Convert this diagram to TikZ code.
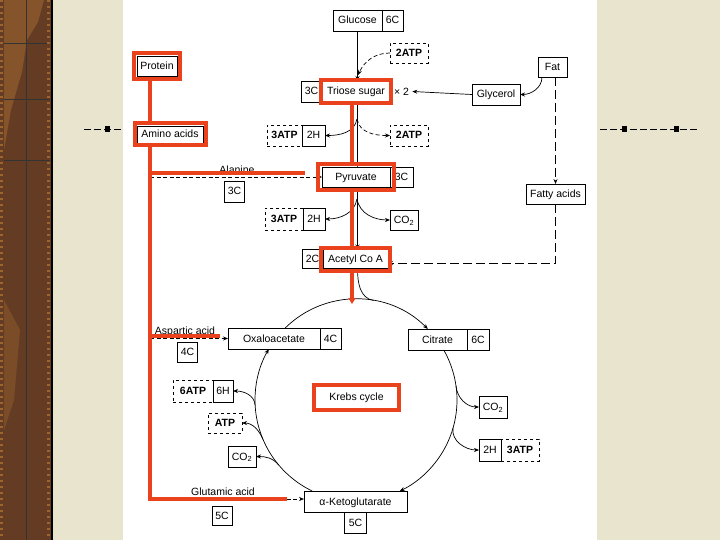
\documentclass[tikz,border=0pt]{standalone}
\usepackage{fontspec}
\setmainfont{Liberation Sans}
\usepackage{xcolor}
\usepackage{tikz}
\usetikzlibrary{arrows.meta, positioning, fit, calc}

\definecolor{hired}{RGB}{233,66,28}
\definecolor{paper}{RGB}{233,228,206}
\definecolor{wood}{RGB}{100,60,36}
\definecolor{woodlight}{RGB}{158,100,46}

\begin{document}
\begin{tikzpicture}[
  x=1pt, y=1pt,
  box/.style={rectangle, draw, line width=0.7pt, outer sep=0pt, minimum height=21pt, inner xsep=3pt, inner ysep=0pt, text height=7.6pt, text depth=0.6pt, align=center, font=\fontsize{10.5}{12}\selectfont},
  cbox/.style={box, minimum width=21pt, inner xsep=1pt},
  energy/.style={box, dashed, font=\fontsize{10.5}{12}\selectfont\bfseries},
  tag/.style={inner sep=0pt, font=\fontsize{10.5}{12}\selectfont},
  hilite/.style={rectangle, draw=hired, line width=4pt, inner sep=2pt},
  flow/.style={line width=0.7pt, -{Stealth[length=5pt, width=4pt]}},
  dflow/.style={flow, dash pattern=on 4pt off 2.5pt},
  lflow/.style={flow, dash pattern=on 9pt off 4pt},
  link/.style={line width=0.7pt},
  redline/.style={draw=hired, line width=4pt},
  deco/.style={line width=0.8pt, dash pattern=on 7pt off 3pt}
]
  \useasboundingbox (0,0) rectangle (720,-540);
  \fill[paper] (0,0) rectangle (720,-540);
  \fill[wood] (0,0) rectangle (53,-540);
  \fill[woodlight, opacity=.6] (4,0) -- (44,0) -- (38,-22) -- (27,-40) -- (22,-72) -- (11,-110) -- (4,-150) -- cycle;
  \fill[woodlight, opacity=.4] (4,-300) -- (20,-330) -- (14,-400) -- (4,-430) -- cycle;
  \draw[black!80, line width=.8pt] (26,0) -- (26,-540);
  \foreach \y in {43,99,160}
    \draw[black!80, line width=.8pt] (4,-\y) -- (50,-\y);
  \draw[woodlight, line width=3pt, dash pattern=on 2pt off 4pt] (1.5,0) -- (1.5,-540);
  \draw[woodlight, line width=3pt, dash pattern=on 2pt off 4pt] (48.5,0) -- (48.5,-540);
  \draw[line width=2pt] (52,0) -- (52,-540);
  \fill[white] (123,0) rectangle (597,-540);
  \draw[deco] (84,-129) -- (123,-129);
  \fill (104.5,-126) rectangle (109.5,-132);
  \draw[deco] (600,-129) -- (697,-129);
  \fill (621.5,-126) rectangle (626.5,-132);
  \fill (673.5,-126) rectangle (678.5,-132);

  \node[box, minimum width=49pt] (glucose) at (357.5,-20.5) {Glucose};
  \node[cbox, right=0pt of glucose] (glucose-c) {6C};
  \node[energy, minimum width=38pt, minimum height=20pt] (atp-a) at (409,-53) {2ATP};
  \node[box, minimum width=68pt] (triose) at (356,-91.5) {Triose sugar};
  \node[cbox, left=0pt of triose] (triose-c) {3C};
  \node[tag, right=4pt of triose] (times) {× 2};
  \node[box, minimum width=48pt] (glycerol) at (496,-94.5) {Glycerol};
  \node[box, minimum width=29pt, minimum height=20pt] (fat) at (552.5,-67) {Fat};
  \node[box, minimum width=23pt] (h2-a) at (313.5,-135.5) {2H};
  \node[energy, minimum width=35pt, left=0pt of h2-a] (atp-b) {3ATP};
  \node[energy, minimum width=38pt] (atp-c) at (409,-135.5) {2ATP};
  \node[box, minimum width=68pt, minimum height=20pt] (pyruvate) at (356,-177) {Pyruvate};
  \node[cbox, minimum width=23pt, minimum height=20pt, right=0pt of pyruvate] (pyruvate-c) {3C};
  \node[tag, anchor=base] (alanine) at (237,-174) {Alanine};
  \node[cbox, minimum width=20pt] (alanine-c) at (234.5,-191.5) {3C};
  \node[box, minimum width=59pt, minimum height=20pt] (fatty) at (555.5,-194) {Fatty acids};
  \node[box, minimum width=22pt, minimum height=22pt] (h2-b) at (314,-219) {2H};
  \node[energy, minimum width=38pt, minimum height=22pt, left=0pt of h2-b] (atp-d) {3ATP};
  \node[box, minimum width=28pt, minimum height=20pt] (co2-a) at (404,-220) {CO\textsubscript{2}};
  \node[box, minimum width=65pt, minimum height=19pt] (acetyl) at (355.5,-259) {Acetyl Co A};
  \node[cbox, minimum height=19pt, left=0pt of acetyl] (acetyl-c) {2C};
  \node[box, minimum width=40pt, minimum height=20pt] (protein) at (157,-66) {Protein};
  \node[box, minimum width=66pt, minimum height=17pt] (amino) at (170,-134.5) {Amino acids};

  \coordinate (kc) at (356,-400);
  \node[box, minimum width=92pt] (oxalo) at (274,-338.5) {Oxaloacetate};
  \node[cbox, right=0pt of oxalo] (oxalo-c) {4C};
  \node[box, minimum width=59pt] (citrate) at (437.5,-339.5) {Citrate};
  \node[cbox, minimum width=22pt, right=0pt of citrate] (citrate-c) {6C};
  \node[tag, anchor=base] (aspartic) at (185,-334) {Aspartic acid};
  \node[cbox, minimum width=20pt, minimum height=20pt] (aspartic-c) at (187.5,-352) {4C};
  \node[box, minimum width=20pt, minimum height=22pt] (h6) at (223,-391) {6H};
  \node[energy, minimum width=40pt, minimum height=22pt, left=0pt of h6] (atp-e) {6ATP};
  \node[energy, minimum width=34pt, minimum height=20pt] (atp-f) at (225,-423) {ATP};
  \node[box, minimum width=28pt] (co2-b) at (242,-456.5) {CO\textsubscript{2}};
  \node[box, minimum width=28pt, minimum height=22pt] (co2-c) at (493,-407) {CO\textsubscript{2}};
  \node[box, minimum width=22pt, minimum height=22pt] (h2-c) at (490,-450) {2H};
  \node[energy, minimum width=38pt, minimum height=22pt, right=0pt of h2-c] (atp-g) {3ATP};
  \node[tag, anchor=base] (glutamic) at (223,-495) {Glutamic acid};
  \node[cbox, minimum width=20pt, minimum height=19pt] (glutamic-c) at (222,-515.5) {5C};
  \node[box, minimum width=103pt] (akg) at (355.5,-501.5) {α-Ketoglutarate};
  \node[cbox, minimum width=22pt, below=0pt of akg] (akg-c) {5C};

  \coordinate (j1) at (358,-75);
  \coordinate (j2) at (357,-119);
  \coordinate (j3) at (357,-199);
  \coordinate (trunk) at (150,-499);
  \draw[flow] (glucose.south) -- (glucose.south |- triose.north);
  \draw[dflow] (atp-a.west) to[out=180, in=65] (j1);
  \draw[flow] (glucose.south |- triose.south) -- (glucose.south |- pyruvate.north);
  \draw[flow] (j2) to[out=-100, in=0] (h2-a.east);
  \draw[dflow] (j2) to[out=-80, in=180] (atp-c.west);
  \draw[flow] (glucose.south |- pyruvate.south) -- (glucose.south |- acetyl.north);
  \draw[flow] (j3) to[out=-100, in=0] (h2-b.east);
  \draw[flow] (j3) to[out=-80, in=180] (co2-a.west);
  \draw[link] (glucose.south |- acetyl.south) to[out=-90, in=170] ($(kc)+(80:101)$);
  \draw[flow] (glycerol.west) -- ([xshift=3pt]times.east);
  \draw[flow] ([xshift=4pt]fat.south west) to[out=-90, in=0] (glycerol.east);
  \draw[lflow] (fat.south -| fatty.north) -- (fatty.north);
  \draw[lflow] (fatty.south) |- ([yshift=-4pt]acetyl.east);
  \draw[dflow] (trunk |- pyruvate.west) -- (pyruvate.west);
  \draw[dflow] (trunk |- oxalo.west) -- (oxalo.west);
  \draw[dflow] (trunk) -- (trunk -| akg.west);

  \draw[flow] ($(kc)+(134.5:101)$) arc[start angle=134.5, end angle=44.7, radius=101];
  \draw[flow] ($(kc)+(29.7:101)$) arc[start angle=29.7, end angle=-64.3, radius=101];
  \draw[flow] ($(kc)+(244.3:101)$) arc[start angle=244.3, end angle=149.7, radius=101];
  \draw[flow] ($(kc)+(8:101)$) to[out=-85, in=180] (co2-c.west);
  \draw[flow] ($(kc)+(-16:101)$) to[out=-100, in=180] (h2-c.west);
  \draw[flow] ($(kc)+(183:101)$) to[out=93, in=0] (h6.east);
  \draw[flow] ($(kc)+(203:101)$) to[out=113, in=0] (atp-f.east);
  \draw[flow] ($(kc)+(220:101)$) to[out=130, in=0] (co2-b.east);

  \node[hilite, fit=(protein), inner sep=3pt] (protein-hl) {};
  \node[hilite, fit=(amino), inner sep=2.5pt] (amino-hl) {};
  \node[hilite, fit=(triose), inner sep=1pt] (triose-hl) {};
  \node[hilite, fit=(pyruvate), inner xsep=4pt, inner ysep=3pt] (pyruvate-hl) {};
  \node[hilite, fit=(acetyl), inner sep=2pt] (acetyl-hl) {};
  \node[hilite, minimum width=85pt, minimum height=25pt, font=\fontsize{10.5}{12}\selectfont] (krebs) at (356.5,-397.5) {Krebs cycle};
  \coordinate (ala-end) at (305,-173);
  \coordinate (asp-end) at (220,-336);
  \coordinate (glu-end) at (287,-499);
  \coordinate (krebs-in) at (352,-304);
  \draw[redline] (trunk |- amino-hl.south) -- (trunk) -- (glu-end);
  \draw[redline] (trunk |- amino-hl.north) -- (trunk |- protein-hl.south);
  \draw[redline] (trunk |- ala-end) -- (ala-end);
  \draw[redline] (trunk |- asp-end) -- (asp-end);
  \draw[redline] ([xshift=-4pt]triose-hl.south) -- ([xshift=-4pt]triose-hl.south |- pyruvate-hl.north);
  \draw[redline] ([xshift=-4pt]triose-hl.south |- pyruvate-hl.south) -- ([xshift=-4pt]triose-hl.south |- acetyl-hl.north);
  \draw[redline, -{Triangle[length=6pt, width=7pt]}] ([xshift=-4pt]triose-hl.south |- acetyl-hl.south) -- (krebs-in);
\end{tikzpicture}
\end{document}
